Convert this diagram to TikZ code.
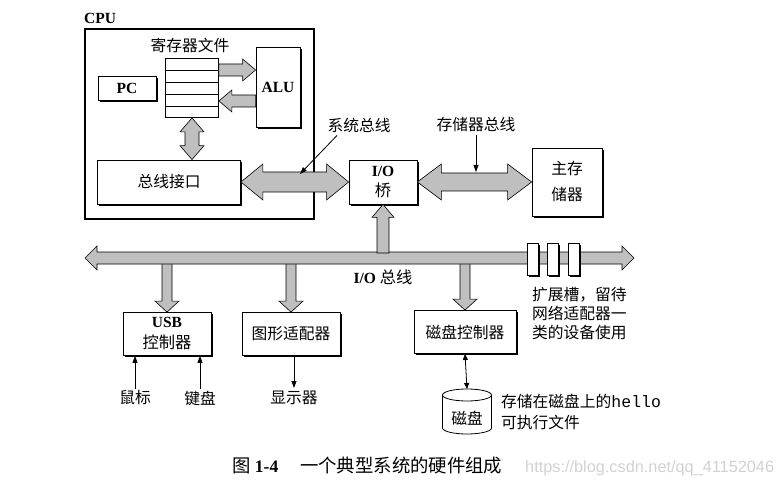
\documentclass[tikz,border=0pt]{standalone}
\usepackage{fontspec}
\setmainfont{Liberation Serif}
\setmonofont{Liberation Mono}
\newfontfamily\cjk[Scale=1.05]{Noto Sans CJK SC}
\newfontfamily\wmfont{Liberation Sans}
\usetikzlibrary{calc,shapes.geometric,shadows,arrows.meta}
\newcommand\zh[1]{{\cjk #1}}
% single fat arrow: A, B (tip), half shaft, half head, head length
\newcommand\fatsingle[5]{%
\path[fatarrow] let \p1=#1, \p2=#2, \n1={veclen(\x2-\x1,\y2-\y1)}, \n2={(\x2-\x1)/\n1}, \n3={(\y2-\y1)/\n1} in
 (\x1-#3pt*\n3, \y1+#3pt*\n2) -- (\x2-#5pt*\n2-#3pt*\n3, \y2-#5pt*\n3+#3pt*\n2) -- (\x2-#5pt*\n2-#4pt*\n3, \y2-#5pt*\n3+#4pt*\n2) -- (\x2,\y2) -- (\x2-#5pt*\n2+#4pt*\n3, \y2-#5pt*\n3-#4pt*\n2) -- (\x2-#5pt*\n2+#3pt*\n3, \y2-#5pt*\n3-#3pt*\n2) -- (\x1+#3pt*\n3, \y1-#3pt*\n2) -- cycle;}
% double fat arrow
\newcommand\fatdouble[5]{%
\path[fatarrow] let \p1=#1, \p2=#2, \n1={veclen(\x2-\x1,\y2-\y1)}, \n2={(\x2-\x1)/\n1}, \n3={(\y2-\y1)/\n1} in
 (\x1,\y1) -- (\x1+#5pt*\n2-#4pt*\n3, \y1+#5pt*\n3+#4pt*\n2) -- (\x1+#5pt*\n2-#3pt*\n3, \y1+#5pt*\n3+#3pt*\n2) -- (\x2-#5pt*\n2-#3pt*\n3, \y2-#5pt*\n3+#3pt*\n2) -- (\x2-#5pt*\n2-#4pt*\n3, \y2-#5pt*\n3+#4pt*\n2) -- (\x2,\y2) -- (\x2-#5pt*\n2+#4pt*\n3, \y2-#5pt*\n3-#4pt*\n2) -- (\x2-#5pt*\n2+#3pt*\n3, \y2-#5pt*\n3-#3pt*\n2) -- (\x1+#5pt*\n2+#3pt*\n3, \y1+#5pt*\n3-#3pt*\n2) -- (\x1+#5pt*\n2+#4pt*\n3, \y1+#5pt*\n3-#4pt*\n2) -- cycle;}
\begin{document}
\begin{tikzpicture}[x=1pt,y=-1pt,
  font=\fontsize{15}{18}\selectfont,
  latin/.style={font=\bfseries\fontsize{15.5}{18}\selectfont},
  box/.style={draw, fill=white, line width=0.8pt, inner sep=0pt, align=center,
    drop shadow={shadow xshift=1.8pt, shadow yshift=-1.8pt, fill=black, opacity=1}},
  plainbox/.style={draw, fill=white, line width=0.8pt, inner sep=0pt},
  fatarrow/.style={fill=gray!50, draw=black, line width=0.6pt},
  thin/.style={-{Triangle[length=7pt,width=5pt]}, line width=0.8pt},
  lbl/.style={inner sep=0pt}]
\fill[white] (0,0) rectangle (783,486);
\useasboundingbox (0,0) rectangle (783,486);

% CPU
\node[draw, line width=1.6pt, minimum width=229pt, minimum height=190pt, inner sep=0pt] (cpu) at (199.5,124) {};
\node[lbl, anchor=base west, latin] (cpul) at (84,24) {CPU};

% register file
\node[plainbox, minimum width=53pt, minimum height=59pt] (rf) at (192,88) {};
\foreach \k in {1,2,3,4} \draw[line width=0.6pt] ($(rf.north west)!\k/5!(rf.south west)$) -- ($(rf.north east)!\k/5!(rf.south east)$);
\node[lbl] (rfl) at (190,45) {\zh{寄存器文件}};

\node[box, minimum width=58pt, minimum height=24pt, latin] (pc) at (127,88) {PC};
\node[box, minimum width=44pt, minimum height=80pt, latin] (alu) at (278,87) {ALU};
\node[box, minimum width=143pt, minimum height=44pt] (bi) at (169,182) {\zh{总线接口}};
\node[box, minimum width=68pt, minimum height=44pt, font=\fontsize{15.5}{20}\selectfont] (io) at (383,182) {\textbf{I/O}\\\zh{桥}};
\node[box, minimum width=70pt, minimum height=68pt, font=\fontsize{15}{26}\selectfont] (mem) at (567,182) {\zh{主存}\\\zh{储器}};

% fat arrows in CPU
\fatsingle{(rf.east |- 0,70)}{(alu.west |- 0,70)}{6}{11}{13}
\fatsingle{(alu.west |- 0,101)}{(rf.east |- 0,101)}{6}{11}{13}
\fatdouble{(rf.south)}{(rf.south |- bi.north)}{7}{12}{14}
% system bus and memory bus
\fatdouble{(bi.east)}{(io.west)}{10}{18}{22}
\fatdouble{(io.east)}{(mem.west)}{9}{18}{24}

% bus labels
\node[lbl] (sysl) at (359,125) {\zh{系统总线}};
\coordinate (sysp) at (300,174);
\draw[thin] ($(sysl.south)+(-22,3)$) -- (sysp);
\node[lbl] (meml) at (476,125) {\zh{存储器总线}};
\coordinate (memp) at (476,172);
\draw[thin] (meml.south) ++(0,3) -- (memp);

% I/O devices
\node[box, minimum width=88pt, minimum height=43pt, font=\fontsize{15.5}{21}\selectfont] (usb) at (167,334) {\textbf{USB}\\\zh{控制器}};
\node[box, minimum width=98pt, minimum height=43pt] (gfx) at (291,334) {\zh{图形适配器}};
\node[box, minimum width=102pt, minimum height=43pt] (dc) at (465,332) {\zh{磁盘控制器}};

% I/O bus
\coordinate (busL) at (85,258);
\coordinate (busR) at (634,258);
\fatsingle{(usb.north |- busL)}{(usb.north)}{5}{12}{11}
\fatsingle{(gfx.north |- busL)}{(gfx.north)}{5}{12}{11}
\fatsingle{(dc.north |- busL)}{(dc.north)}{5}{12}{11}
\fatdouble{(busL)}{(busR)}{6}{12}{12}
\fatsingle{(io.south |- 0,253)}{(io.south)}{6}{11}{13}
\node[lbl, font=\fontsize{15.5}{18}\selectfont] (iobl) at (383,277) {\textbf{I/O} \zh{总线}};

% expansion slots
\foreach \n/\xx in {s1/533, s2/552.5, s3/574}
  \node[box, minimum width=11pt, minimum height=32pt] (\n) at (\xx,259) {};
\node[lbl, anchor=north west, align=left, font=\fontsize{15}{19}\selectfont] (slotl) at (532,287) {\zh{扩展槽，留待}\\\zh{网络适配器一}\\\zh{类的设备使用}};

% peripherals
\node[lbl] (mouse) at (135,398) {\zh{鼠标}};
\node[lbl] (kbd) at (200,398) {\zh{键盘}};
\node[lbl] (disp) at (294,398) {\zh{显示器}};
\draw[thin] (mouse.north |- 0,389) -- (mouse.north |- usb.south);
\draw[thin] (kbd.north |- 0,389) -- (kbd.north |- usb.south);
\draw[thin] (disp.north |- gfx.south) -- (disp.north |- 0,388);

% disk (cylinder drawn directly)
\coordinate (disk) at (467,389);
\filldraw[fill=white, line width=0.8pt] (442.5,395) -- (442.5,428) arc[start angle=180, end angle=360, x radius=24.5pt, y radius=6pt] -- (491.5,395);
\draw[line width=0.8pt] (467,395) ellipse[x radius=24.5pt, y radius=6pt];
\node[lbl] (diskl) at (467,418) {\zh{磁盘}};
\draw[{Triangle[length=6pt,width=5pt]}-{Triangle[length=6pt,width=5pt]}, line width=0.8pt] (dc.south) -- (disk);
\node[lbl, anchor=west, align=left, font=\fontsize{15}{21}\selectfont] (diskt) at (501,412) {\zh{存储在磁盘上的}{\fontsize{16.5}{21}\selectfont\ttfamily hello}\\\zh{可执行文件}};

% caption
\node[lbl, anchor=base west, font=\fontsize{17.5}{20}\selectfont] (cap) at (232,472) {\zh{图} \textbf{1-4}\quad\ \zh{一个典型系统的硬件组成}};
\node[lbl, anchor=base west, text=gray!35, font=\wmfont\fontsize{16.3}{18}\selectfont] (wm) at (525,472) {https://blog.csdn.net/qq\_41152046};
\end{tikzpicture}
\end{document}
